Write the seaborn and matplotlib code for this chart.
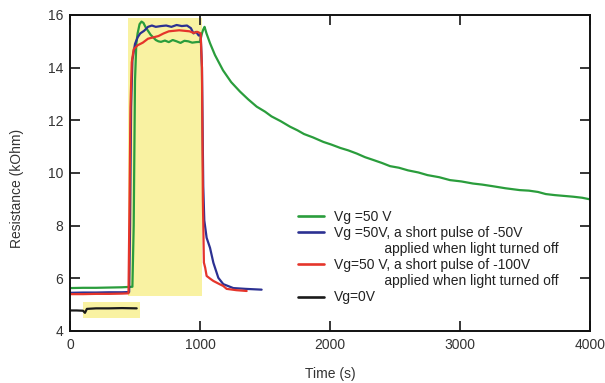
import numpy as np
import pandas as pd
import matplotlib
matplotlib.use("Agg")
import matplotlib.pyplot as plt
import seaborn as sns
from matplotlib.patches import Rectangle
from matplotlib.lines import Line2D

# ---------------- data ----------------
labels = [
    "Vg =50 V",
    "Vg =50V, a short pulse of -50V",
    "Vg=50 V, a short pulse of -100V",
    "Vg=0V",
]
label_notes = ["", "applied when light turned off", "applied when light turned off", ""]
colors = ["#2a9d3c", "#2c3192", "#e5352b", "#1a1a1a"]

green_t = [0, 100, 200, 300, 400, 480, 490, 500, 510, 520, 535, 550, 565, 580, 600, 620, 640,
           660, 680, 700, 730, 760, 790, 820, 850, 880, 910, 940, 970, 1000, 1015, 1025, 1035,
           1050, 1077, 1115, 1177, 1240, 1308, 1370, 1436, 1500, 1550, 1620, 1692, 1750, 1800,
           1870, 1949, 2010, 2080, 2140, 2205, 2270, 2330, 2400, 2462, 2530, 2600, 2680, 2750,
           2840, 2923, 3010, 3100, 3170, 3250, 3350, 3460, 3530, 3600, 3660, 3730, 3800, 3870,
           3940, 4000]
green_r = [5.63, 5.64, 5.64, 5.65, 5.66, 5.68, 8.0, 13.5, 14.9, 15.3, 15.65, 15.75, 15.7, 15.55,
           15.4, 15.25, 15.15, 15.05, 15.0, 14.98, 15.03, 14.97, 15.05, 15.0, 14.94, 15.02, 15.0,
           14.95, 14.97, 14.98, 15.3, 15.45, 15.55, 15.3, 14.93, 14.48, 13.9, 13.45, 13.09, 12.8,
           12.52, 12.33, 12.15, 11.97, 11.76, 11.62, 11.48, 11.35, 11.18, 11.08, 10.95, 10.86,
           10.74, 10.6, 10.5, 10.38, 10.26, 10.2, 10.1, 10.02, 9.92, 9.84, 9.73, 9.68, 9.6, 9.56,
           9.5, 9.42, 9.35, 9.33, 9.28, 9.2, 9.16, 9.13, 9.1, 9.06, 9.0]

blue_t = [0, 100, 200, 300, 400, 455, 462, 470, 480, 500, 520, 540, 570, 600, 630, 660, 700,
          740, 780, 820, 860, 900, 930, 950, 970, 990, 1005, 1015, 1025, 1033, 1051, 1077, 1103,
          1141, 1179, 1256, 1350, 1474]
blue_r = [5.45, 5.46, 5.46, 5.47, 5.47, 5.48, 8.0, 12.5, 14.3, 14.9, 15.15, 15.3, 15.4, 15.55,
          15.6, 15.55, 15.58, 15.6, 15.55, 15.62, 15.58, 15.6, 15.5, 15.3, 15.36, 15.22, 15.25,
          14.0, 9.5, 8.2, 7.54, 7.16, 6.59, 6.02, 5.78, 5.63, 5.6, 5.57]

red_t = [0, 100, 200, 300, 400, 450, 458, 465, 475, 490, 520, 560, 600, 640, 680, 720, 760,
         800, 840, 880, 920, 950, 980, 1005, 1015, 1022, 1030, 1040, 1051, 1080, 1103, 1150,
         1179, 1205, 1280, 1359]
red_r = [5.40, 5.40, 5.41, 5.41, 5.42, 5.43, 9.0, 12.5, 14.2, 14.7, 14.85, 14.95, 15.1, 15.15,
         15.2, 15.3, 15.38, 15.4, 15.42, 15.4, 15.38, 15.32, 15.36, 15.3, 14.0, 9.0, 6.6, 6.4,
         6.09, 5.98, 5.9, 5.78, 5.71, 5.6, 5.55, 5.52]

black_t = [0, 50, 100, 115, 130, 200, 300, 400, 513]
black_r = [4.78, 4.78, 4.77, 4.69, 4.84, 4.86, 4.86, 4.87, 4.86]

series_t = [green_t, blue_t, red_t, black_t]
series_r = [green_r, blue_r, red_r, black_r]

# highlight boxes (time range, resistance range)
box_big = (446, 1015, 5.33, 15.89)
box_small = (98, 538, 4.48, 5.11)

rows = []
for lab, ts, rs in zip(labels, series_t, series_r):
    for i, (t, r) in enumerate(zip(ts, rs)):
        rows.append({"series": lab, "order": i, "time": t, "res": r})
df = pd.DataFrame(rows)

# ---------------- plot ----------------
sns.set_style("ticks")
plt.rcParams["font.family"] = ["Liberation Sans", "DejaVu Sans"]

fig = plt.figure(figsize=(6.05, 3.83), dpi=100)
ax = fig.add_axes([70 / 605, 1 - 331 / 383, 520 / 605, 316 / 383])

for (x0, x1, y0, y1) in [box_big, box_small]:
    ax.add_patch(Rectangle((x0, y0), x1 - x0, y1 - y0, facecolor="#f9f2a2",
                           edgecolor="none", zorder=0))

sns.lineplot(data=df, x="time", y="res", hue="series", hue_order=labels,
             palette=dict(zip(labels, colors)), sort=False, estimator=None,
             units="series", linewidth=1.6, ax=ax, zorder=2, legend=False)

ax.set_xlim(0, 4000)
ax.set_ylim(4, 16)
ax.set_xticks([0, 1000, 2000, 3000, 4000])
ax.set_yticks([4, 6, 8, 10, 12, 14, 16])
ax.tick_params(direction="in", length=7, width=1.3, top=True, right=True,
               labelsize=10, labelcolor="#333333", pad=5)
for s in ax.spines.values():
    s.set_linewidth(1.4)
    s.set_color("#111111")
    s.set_visible(True)

ax.set_xlabel("Time (s)", fontsize=10, color="#333333", labelpad=11)
ax.set_ylabel("Resistance (kOhm)", fontsize=10, color="#333333")
ax.yaxis.set_label_coords(-0.088, 0.45)

# legend: one row per text line, continuation lines without a handle
handles, texts = [], []
for lab, note, col in zip(labels, label_notes, colors):
    handles.append(Line2D([], [], color=col, linewidth=1.9))
    texts.append(lab)
    if note:
        handles.append(Line2D([], [], color="none"))
        texts.append(" " * 13 + note)
leg = ax.legend(handles, texts, loc="upper left", bbox_to_anchor=(0.438, 0.383),
                frameon=False, fontsize=10, handlelength=1.9, handletextpad=0.72,
                labelspacing=0.15, borderpad=0, borderaxespad=0)
for t in leg.get_texts():
    t.set_color("#222222")

fig.savefig("out.png", dpi=100)
